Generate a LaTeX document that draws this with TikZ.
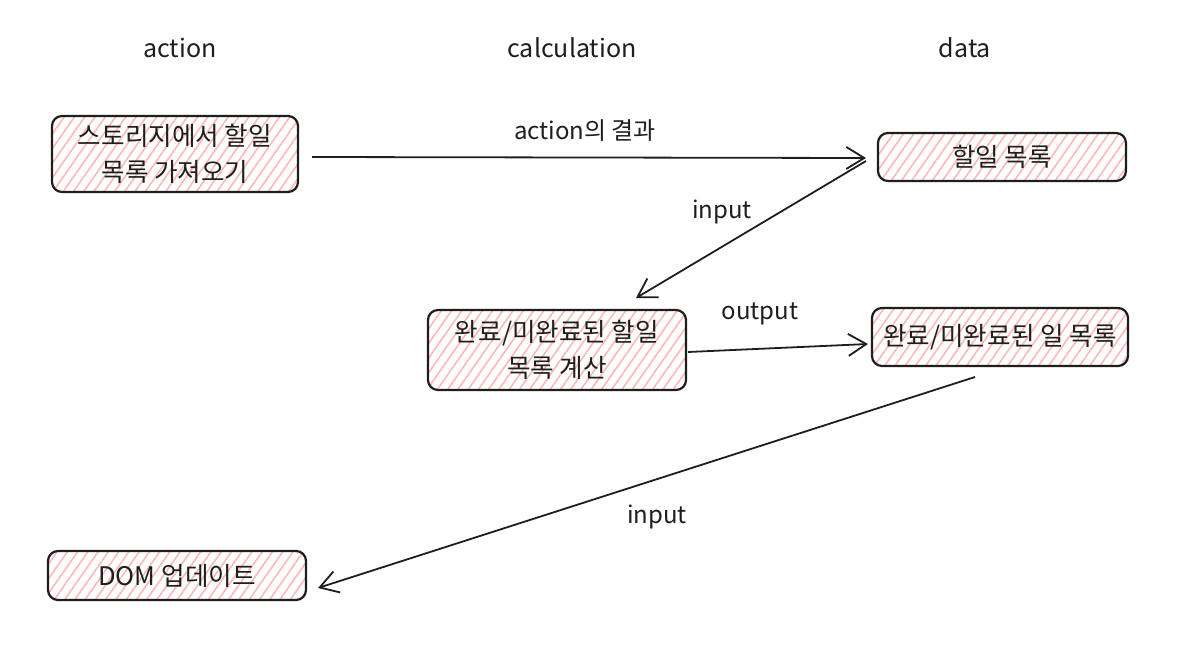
\documentclass[tikz,border=0pt]{standalone}
\usepackage{fontspec}
\setmainfont{Noto Sans CJK KR}
\usetikzlibrary{patterns.meta,arrows.meta}
\definecolor{hatch}{HTML}{FFB8B8}
\definecolor{ink}{HTML}{1E1E1E}
\tikzset{
  box/.style={draw=ink, line width=1.1pt, rounded corners=5pt,
    pattern={Lines[angle=55,distance=4.2pt,line width=0.8pt]}, pattern color=hatch,
    align=center, font=\fontsize{12.8}{18}\selectfont, text=ink, inner sep=0pt},
  conn/.style={draw=ink, line width=0.9pt, -{Straight Barb[length=9pt,width=11pt,line width=0.9pt]}},
  lbl/.style={font=\fontsize{12}{13}\selectfont, text=ink},
  head/.style={font=\fontsize{12.5}{13}\selectfont, text=ink}
}
\begin{document}
\begin{tikzpicture}[x=0.5pt,y=-0.5pt]
\useasboundingbox (0,0) rectangle (1200,648);
% column headings
\node[head] (h1) at (180,48) {action};
\node[head] (h2) at (572,48) {calculation};
\node[head] (h3) at (965,48) {data};
% boxes
\node[box, minimum width=123pt, minimum height=38pt] (a) at (175,154) {스토리지에서 할일\\목록 가져오기};
\node[box, minimum width=124pt, minimum height=24pt] (b) at (1002,157) {할일 목록};
\node[box, minimum width=129pt, minimum height=40pt] (c) at (557,350) {완료/미완료된 할일\\목록 계산};
\node[box, minimum width=128pt, minimum height=29pt] (d) at (1000,337) {완료/미완료된 일 목록};
\node[box, minimum width=129pt, minimum height=24.5pt] (e) at (177,575.5) {DOM 업데이트};
% connectors
\coordinate (a1) at (312,157);
\coordinate (b1) at (866,158);
\coordinate (b2) at (866,161);
\coordinate (c1) at (636,298);
\coordinate (c2) at (688,352);
\coordinate (d1) at (868,344);
\coordinate (d2) at (975,377);
\coordinate (e1) at (318,588);
\draw[conn] (a1) -- (b1);
\draw[conn] (b2) -- (c1);
\draw[conn] (c2) -- (d1);
\draw[conn] (d2) -- (e1);
% labels
\node[lbl] (l1) at (585,131) {action의 결과};
\node[lbl] (l2) at (722,212) {input};
\node[lbl] (l3) at (760,314) {output};
\node[lbl] (l4) at (657,517) {input};
\end{tikzpicture}
\end{document}
